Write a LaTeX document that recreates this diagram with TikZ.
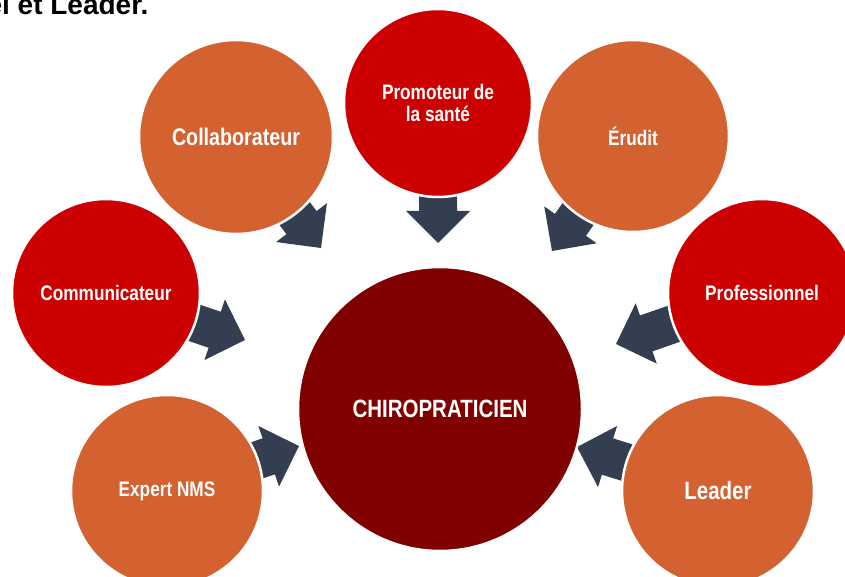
\documentclass[tikz,border=0pt]{standalone}
\usepackage{fontspec}
\setmainfont{Liberation Sans}
\newfontfamily\narrowfont[FakeStretch=0.82]{Liberation Sans}
\usetikzlibrary{calc,backgrounds}
\definecolor{corange}{HTML}{D36230}
\definecolor{cred}{HTML}{CC0000}
\definecolor{cdark}{HTML}{800000}
\definecolor{carrow}{HTML}{333F50}
\newcommand\blockarrow[2]{%
  \coordinate (#2h) at ($(#2)!32pt!(#1.center)$);
  \coordinate (#2b) at ($(#1.center)!60pt!(#2)$);
  \fill[arrowfill] (#2)
    -- ($(#2h)!32pt!90:(#1.center)$)
    -- ($(#2h)!19pt!90:(#1.center)$)
    -- ($(#2b)!19pt!90:(#1.center)$)
    -- ($(#2b)!19pt!-90:(#1.center)$)
    -- ($(#2h)!19pt!-90:(#1.center)$)
    -- ($(#2h)!32pt!-90:(#1.center)$)
    -- cycle;}
\begin{document}
\begin{tikzpicture}[x=1pt,y=-1pt,
  bubble/.style={circle, draw=white, line width=2.5pt, inner sep=0pt, text=white,
    align=center, font=\narrowfont\bfseries\fontsize{21}{22}\selectfont},
  orangebubble/.style={bubble, fill=corange},
  redbubble/.style={bubble, fill=cred},
  arrowfill/.style={fill=carrow}]
\useasboundingbox (0,0) rectangle (845,577);
\clip (0,0) rectangle (845,577);

\node[anchor=base east, font=\bfseries\fontsize{28}{30}\selectfont] (title) at (152,15) {el et Leader.};

\node[bubble, fill=cdark, minimum size=284pt, font=\narrowfont\bfseries\fontsize{25}{26}\selectfont] (chiro) at (440,409) {CHIROPRATICIEN};
\node[redbubble, minimum size=188pt] (prom) at (438,103) {Promoteur de\\la santé};
\node[orangebubble, minimum size=194pt, font=\narrowfont\bfseries\fontsize{24}{26}\selectfont] (coll) at (236,137) {Collaborateur};
\node[orangebubble, minimum size=192pt] (erud) at (633,136) {Érudit};
\node[redbubble, minimum size=188pt] (comm) at (106,293) {Communicateur};
\node[redbubble, minimum size=188pt] (prof) at (762,293) {Professionnel};
\node[orangebubble, minimum size=192pt] (expe) at (167,491) {Expert NMS};
\node[orangebubble, minimum size=192pt, font=\narrowfont\bfseries\fontsize{25}{26}\selectfont] (lead) at (718,491) {Leader};

\coordinate (tcoll) at (321,248);
\coordinate (tprom) at (438,243);
\coordinate (terud) at (552,251);
\coordinate (tcomm) at (245,340);
\coordinate (tprof) at (616,344);
\coordinate (texpe) at (299,446);
\coordinate (tlead) at (577,447);

\begin{scope}[on background layer]
\blockarrow{coll}{tcoll}
\blockarrow{prom}{tprom}
\blockarrow{erud}{terud}
\blockarrow{comm}{tcomm}
\blockarrow{prof}{tprof}
\blockarrow{expe}{texpe}
\blockarrow{lead}{tlead}
\end{scope}
\end{tikzpicture}
\end{document}
